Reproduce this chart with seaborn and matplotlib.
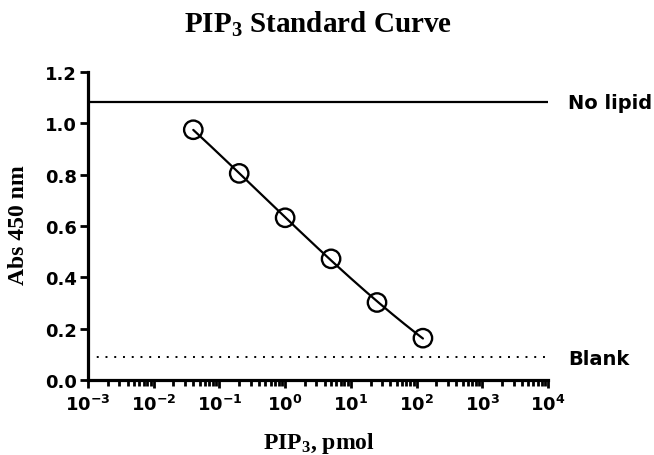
import numpy as np
import pandas as pd
import matplotlib
matplotlib.use("Agg")
import matplotlib.pyplot as plt
import matplotlib.transforms as mtransforms
from matplotlib.ticker import FixedLocator, FuncFormatter, LogLocator, NullFormatter
import seaborn as sns

# ---- data ----
pip3_pmol = [0.04, 0.2, 1.0, 5.0, 25.0, 125.0]
abs450 = [0.975, 0.805, 0.632, 0.472, 0.302, 0.163]
no_lipid_abs = 1.083
blank_abs = 0.090
x_decades = [-3, -2, -1, 0, 1, 2, 3, 4]
y_ticks = [0.0, 0.2, 0.4, 0.6, 0.8, 1.0, 1.2]
title_text = r"PIP$_3$ Standard Curve"
xlabel_text = r"PIP$_3$, pmol"
ylabel_text = "Abs 450 nm"

df = pd.DataFrame({"pmol": pip3_pmol, "abs": abs450})

# ---- 4-parameter logistic fit to the points (grid over EC50/slope, LS for bottom/top) ----
lx = np.log10(df["pmol"].to_numpy())
yv = df["abs"].to_numpy()
C, H = np.meshgrid(np.linspace(-2.5, 3.5, 601), np.linspace(0.15, 2.5, 236), indexing="ij")
S = 1.0 / (1.0 + 10 ** ((lx[None, None, :] - C[..., None]) * H[..., None]))
sm = S.mean(-1, keepdims=True)
ym = yv.mean()
d = ((S - sm) * (yv - ym)).sum(-1) / ((S - sm) ** 2).sum(-1)
b = ym - d * sm[..., 0]
sse = ((b[..., None] + d[..., None] * S - yv) ** 2).sum(-1)
i, j = np.unravel_index(np.argmin(sse), sse.shape)
c_best, h_best, b_best, d_best = C[i, j], H[i, j], b[i, j], d[i, j]
fit_lx = np.linspace(lx.min(), lx.max(), 300)
fit_df = pd.DataFrame({
    "pmol": 10 ** fit_lx,
    "abs": b_best + d_best / (1.0 + 10 ** ((fit_lx - c_best) * h_best)),
})

# ---- style ----
sns.set_theme(style="ticks")
plt.rcParams["font.family"] = ["DejaVu Sans"]
plt.rcParams["text.color"] = "black"
plt.rcParams["axes.labelcolor"] = "black"
plt.rcParams["mathtext.fontset"] = "dejavusans"
plt.rcParams["mathtext.rm"] = "Liberation Serif:bold"
plt.rcParams["mathtext.it"] = "Liberation Serif:bold"
plt.rcParams["mathtext.bf"] = "Liberation Serif:bold"

fig = plt.figure(figsize=(6.54, 4.56), dpi=100)
ax = fig.add_axes([88 / 654, 75 / 456, 460 / 654, 308 / 456])

sns.lineplot(data=fit_df, x="pmol", y="abs", color="black", linewidth=1.6, ax=ax, zorder=3)
sns.scatterplot(data=df, x="pmol", y="abs", marker="o", s=175, facecolor="none",
                edgecolor="black", linewidth=1.7, ax=ax, zorder=4, clip_on=False)

ax.axhline(no_lipid_abs, color="black", linewidth=1.6, zorder=2)
ax.axhline(blank_abs, color="black", linewidth=1.4, linestyle=(0, (1, 3.5)), zorder=2)

ax.set_xscale("log")
ax.set_xlim(10.0 ** x_decades[0], 10.0 ** x_decades[-1])
ax.set_ylim(y_ticks[0], y_ticks[-1])

ax.xaxis.set_major_locator(FixedLocator([10.0 ** k for k in x_decades]))
ax.xaxis.set_major_formatter(FuncFormatter(lambda v, p: r"$\mathbf{10^{%d}}$" % round(np.log10(v))))
ax.xaxis.set_minor_locator(LogLocator(base=10, subs=np.arange(2, 10), numticks=50))
ax.xaxis.set_minor_formatter(NullFormatter())
ax.yaxis.set_major_locator(FixedLocator(y_ticks))
ax.yaxis.set_major_formatter(FuncFormatter(lambda v, p: "%.1f" % v))

ax.set_xlabel("")
ax.set_ylabel("")
for side in ["top", "right"]:
    ax.spines[side].set_visible(False)
for side in ["left", "bottom"]:
    ax.spines[side].set_linewidth(2.3)
    ax.spines[side].set_color("black")

ax.tick_params(axis="both", which="major", direction="out", length=6, width=2.0,
               color="black", labelsize=13, labelcolor="black")
ax.tick_params(axis="x", which="minor", direction="out", length=4, width=2.0, color="black")
ax.tick_params(axis="x", which="major", pad=4)
ax.tick_params(axis="y", which="major", pad=2)
for lab in ax.get_yticklabels() + ax.get_xticklabels():
    lab.set_fontweight("bold")

blend = mtransforms.blended_transform_factory(ax.transAxes, ax.transData)
ax.text(1.043, no_lipid_abs, "No lipid", transform=blend, ha="left", va="center",
        fontsize=14, fontweight="bold", color="black")
ax.text(1.043, blank_abs - 0.005, "Blank", transform=blend, ha="left", va="center",
        fontsize=14, fontweight="bold", color="black")

fig.text(318 / 654, 1 - 33 / 456, title_text, ha="center", va="baseline", color="black",
         fontsize=21, fontweight="bold", family="Liberation Serif", math_fontfamily="custom")
fig.text(319 / 654, 1 - 449 / 456, xlabel_text, ha="center", va="baseline", color="black",
         fontsize=17, fontweight="bold", family="Liberation Serif", math_fontfamily="custom")
fig.text(19 / 654, 1 - 225 / 456, ylabel_text, ha="center", va="center", rotation=90,
         color="black", fontsize=17, fontweight="bold", family="Liberation Serif")

fig.savefig("out.png", dpi=100, facecolor="white")
